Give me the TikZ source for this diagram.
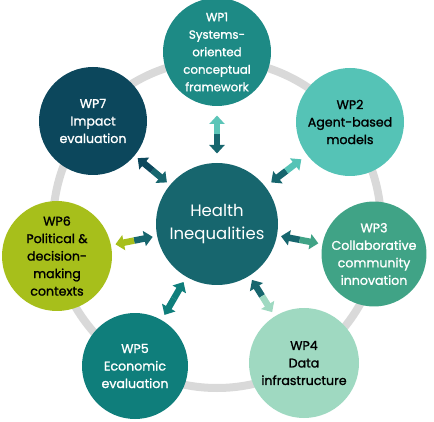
\documentclass[tikz,border=0pt]{standalone}
\usepackage{fontspec}
\setmainfont{Poppins}
\newfontfamily\wpfont{Poppins}[FakeBold=1.3]
\usetikzlibrary{arrows.meta,calc}
\definecolor{cHI}{HTML}{17666E}
\definecolor{cW1}{HTML}{1D8A85}
\definecolor{cW1a}{HTML}{5CC5B8}
\definecolor{cW2}{HTML}{55C3B6}
\definecolor{cW3}{HTML}{40A386}
\definecolor{cW4}{HTML}{9FD9C1}
\definecolor{cW5}{HTML}{0F7E7B}
\definecolor{cW6}{HTML}{A7BF1B}
\definecolor{cW7}{HTML}{0C475C}
\definecolor{cRing}{HTML}{D9D9D9}
\tikzset{
  wp/.style={circle, inner sep=0pt, outer sep=0pt, minimum size=108pt, align=center,
    font=\wpfont\fontsize{12.6}{17.5}\selectfont},
  hub/.style={circle, inner sep=0pt, outer sep=0pt, minimum size=122pt, align=center,
    fill=cHI, text=white, font=\fontsize{16.5}{23}\selectfont},
  ring/.style={draw=cRing, line width=8pt},
  arr/.style={line width=6.5pt, -{Triangle[length=8.5pt,width=15pt]}}
}
\begin{document}
\begin{tikzpicture}[x=1pt,y=-1pt]
\useasboundingbox (0,0) rectangle (434,422);
\coordinate (rc) at (217,224);
\draw[ring] (rc) circle[radius=164pt];
\node[hub] (h) at (217,224) {Health\\Inequalities};
\node[wp, fill=cW1, text=white, font=\wpfont\fontsize{11.8}{17.5}\selectfont] (w1) at (217,52) {WP1\\Systems-\\oriented\\conceptual\\framework};
\node[wp, fill=cW2, text=black] (w2) at (350,122) {WP2\\Agent-based\\models};
\node[wp, fill=cW3, text=white, minimum size=104pt] (w3) at (374,254) {WP3\\Collaborative\\community\\innovation};
\node[wp, fill=cW4, text=black, minimum size=110pt] (w4) at (304,363) {WP4\\Data\\infrastructure};
\node[wp, fill=cW5, text=white, minimum size=106pt] (w5) at (135,366) {WP5\\Economic\\evaluation};
\node[wp, fill=cW6, text=black, minimum size=110pt] (w6) at (57,256) {WP6\\Political \&\\decision-\\making\\contexts};
\node[wp, fill=cW7, text=white] (w7) at (93,121) {WP7\\Impact\\evaluation};
\foreach \w/\ci/\co in {w1/cHI/cW1a, w2/cHI/cW2, w3/cHI/cW3, w4/cHI/cW4, w5/cW5/cW5, w6/cHI/cW6, w7/cHI/cW7}{
  \path (h) -- coordinate[pos=0.5] (m-\w) (\w);
  \draw[arr, draw=\ci, fill=\ci] (m-\w) -- ($(m-\w)!19pt!(h.center)$);
  \draw[arr, draw=\co, fill=\co] (m-\w) -- ($(m-\w)!19pt!(\w.center)$);
}
\end{tikzpicture}
\end{document}
